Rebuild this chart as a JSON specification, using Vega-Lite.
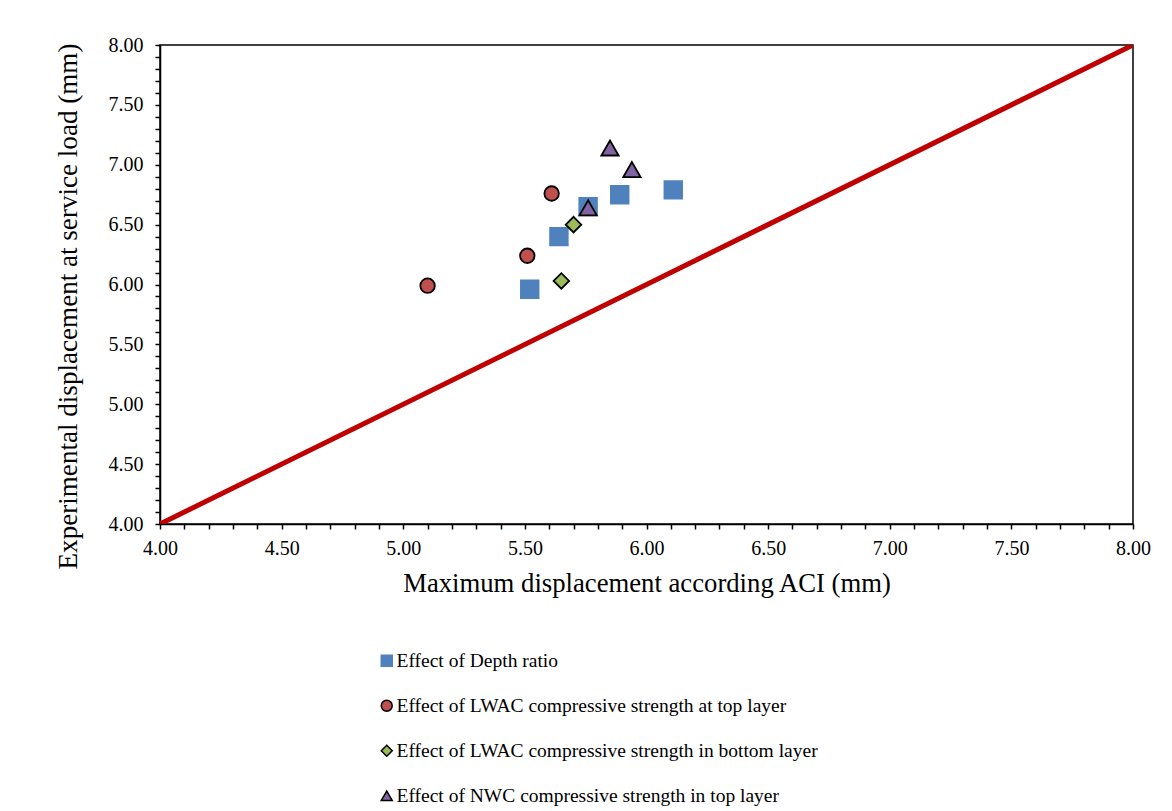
{
  "$schema": "https://vega.github.io/schema/vega-lite/v6.json",
  "autosize": "none",
  "width": 973,
  "height": 479,
  "padding": {"left": 160, "top": 45, "right": 39, "bottom": 287},
  "background": "white",
  "config": {
    "font": "Liberation Serif",
    "view": {"stroke": "black", "strokeWidth": 1.5},
    "axis": {
      "labelFont": "Liberation Serif",
      "titleFont": "Liberation Serif",
      "labelFontSize": 20,
      "titleFontSize": 26.7,
      "titleFontWeight": "normal",
      "labelColor": "black",
      "titleColor": "black",
      "domainColor": "black",
      "domainWidth": 1.5,
      "tickColor": "black",
      "tickWidth": 1.5,
      "tickSize": 5,
      "grid": false,
      "labelOverlap": false
    }
  },
  "datasets": {
    "pts": [
      {"series": "Effect of Depth ratio", "aci": 5.52, "exp": 5.96},
      {"series": "Effect of Depth ratio", "aci": 5.64, "exp": 6.40},
      {"series": "Effect of Depth ratio", "aci": 5.76, "exp": 6.65},
      {"series": "Effect of Depth ratio", "aci": 5.89, "exp": 6.75},
      {"series": "Effect of Depth ratio", "aci": 6.11, "exp": 6.79},
      {"series": "Effect of LWAC compressive strength at top layer", "aci": 5.10, "exp": 5.99},
      {"series": "Effect of LWAC compressive strength at top layer", "aci": 5.51, "exp": 6.24},
      {"series": "Effect of LWAC compressive strength at top layer", "aci": 5.61, "exp": 6.76},
      {"series": "Effect of LWAC compressive strength in bottom layer", "aci": 5.70, "exp": 6.50},
      {"series": "Effect of LWAC compressive strength in bottom layer", "aci": 5.65, "exp": 6.03},
      {"series": "Effect of NWC compressive strength in top layer", "aci": 5.85, "exp": 7.14},
      {"series": "Effect of NWC compressive strength in top layer", "aci": 5.94, "exp": 6.96},
      {"series": "Effect of NWC compressive strength in top layer", "aci": 5.76, "exp": 6.64}
    ],
    "line": [
      {"aci": 4, "exp": 4},
      {"aci": 8, "exp": 8}
    ]
  },
  "encoding": {
    "x": {
      "field": "aci",
      "type": "quantitative",
      "scale": {"domain": [4, 8], "nice": false, "zero": false},
      "axis": {
        "title": "Maximum displacement according ACI (mm)",
        "values": [4, 4.1, 4.2, 4.3, 4.4, 4.5, 4.6, 4.7, 4.8, 4.9, 5, 5.1, 5.2, 5.3, 5.4, 5.5, 5.6, 5.7, 5.8, 5.9, 6, 6.1, 6.2, 6.3, 6.4, 6.5, 6.6, 6.7, 6.8, 6.9, 7, 7.1, 7.2, 7.3, 7.4, 7.5, 7.6, 7.7, 7.8, 7.9, 8],
        "labelExpr": "abs(datum.value*2 - round(datum.value*2)) < 0.001 ? format(datum.value, '.2f') : ''",
        "labelPadding": 9,
        "titlePadding": 12,
        "labelFlush": false,
        "encode": {
          "ticks": {
            "update": {
              "y": {"value": -5},
              "y2": {"signal": "abs(datum.value*2 - round(datum.value*2)) < 0.001 ? 5 : 0"}
            }
          }
        }
      }
    },
    "y": {
      "field": "exp",
      "type": "quantitative",
      "scale": {"domain": [4, 8], "nice": false, "zero": false},
      "axis": {
        "title": "Experimental displacement at service load (mm)",
        "titleFontSize": 27.1,
        "titleY": 261,
        "values": [4, 4.1, 4.2, 4.3, 4.4, 4.5, 4.6, 4.7, 4.8, 4.9, 5, 5.1, 5.2, 5.3, 5.4, 5.5, 5.6, 5.7, 5.8, 5.9, 6, 6.1, 6.2, 6.3, 6.4, 6.5, 6.6, 6.7, 6.8, 6.9, 7, 7.1, 7.2, 7.3, 7.4, 7.5, 7.6, 7.7, 7.8, 7.9, 8],
        "labelExpr": "abs(datum.value*2 - round(datum.value*2)) < 0.001 ? format(datum.value, '.2f') : ''",
        "labelPadding": 12,
        "titlePadding": 26,
        "labelFlush": false,
        "encode": {
          "ticks": {
            "update": {
              "x": {"value": 5},
              "x2": {"signal": "abs(datum.value*2 - round(datum.value*2)) < 0.001 ? -5 : 0"}
            }
          }
        }
      }
    }
  },
  "layer": [
    {
      "data": {"name": "line"},
      "mark": {"type": "line", "color": "#C00000", "strokeWidth": 5, "clip": true}
    },
    {
      "data": {"name": "pts"},
      "mark": {"type": "point", "filled": true, "opacity": 1, "strokeWidth": 1.8},
      "encoding": {
        "fill": {
          "field": "series",
          "type": "nominal",
          "scale": {
            "domain": ["Effect of Depth ratio", "Effect of LWAC compressive strength at top layer", "Effect of LWAC compressive strength in bottom layer", "Effect of NWC compressive strength in top layer"],
            "range": ["#4F81BD", "#C0504D", "#9BBB59", "#8064A2"]
          },
          "legend": {
            "title": null,
            "orient": "none",
            "legendX": 217,
            "legendY": 606,
            "direction": "vertical",
            "labelFont": "Liberation Serif",
            "labelFontSize": 19.5,
            "labelColor": "black",
            "labelOffset": 0,
            "rowPadding": 24,
            "symbolSize": 120,
            "symbolStrokeWidth": 1.5,
            "padding": 0,
            "labelLimit": 700
          }
        },
        "stroke": {
          "field": "series",
          "type": "nominal",
          "scale": {
            "domain": ["Effect of Depth ratio", "Effect of LWAC compressive strength at top layer", "Effect of LWAC compressive strength in bottom layer", "Effect of NWC compressive strength in top layer"],
            "range": ["#4F81BD", "black", "black", "black"]
          }
        },
        "shape": {
          "field": "series",
          "type": "nominal",
          "scale": {
            "domain": ["Effect of Depth ratio", "Effect of LWAC compressive strength at top layer", "Effect of LWAC compressive strength in bottom layer", "Effect of NWC compressive strength in top layer"],
            "range": ["square", "circle", "diamond", "triangle-up"]
          }
        },
        "size": {
          "condition": [
            {"test": "datum.series === 'Effect of Depth ratio'", "value": 310},
            {"test": "datum.series === 'Effect of LWAC compressive strength at top layer'", "value": 210},
            {"test": "datum.series === 'Effect of LWAC compressive strength in bottom layer'", "value": 240}
          ],
          "value": 300
        }
      }
    }
  ]
}
